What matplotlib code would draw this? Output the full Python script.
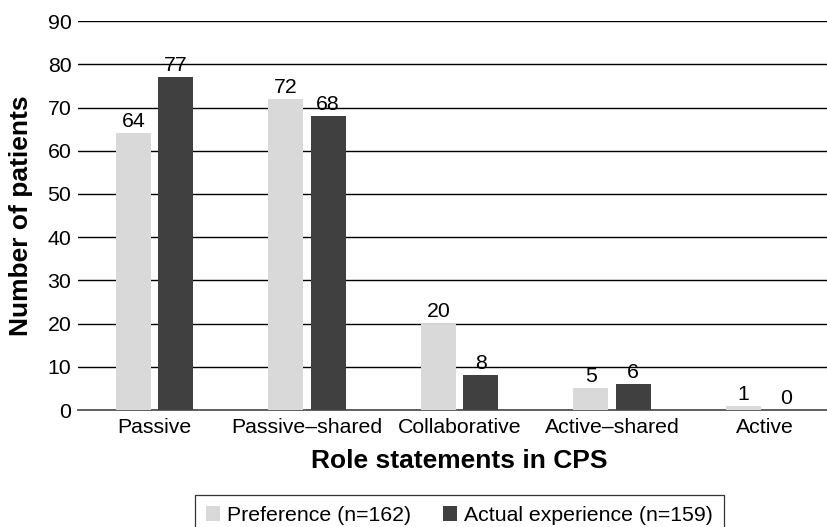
import numpy as np
import matplotlib
matplotlib.use("Agg")
import matplotlib.pyplot as plt

plt.rcParams['font.family'] = ['Liberation Sans', 'DejaVu Sans']

# --- Data ---
categories = ["Passive", "Passive\u2013shared", "Collaborative", "Active\u2013shared", "Active"]
preference = [64, 72, 20, 5, 1]
actual = [77, 68, 8, 6, 0]
series_labels = ["Preference (n=162)", "Actual experience (n=159)"]

LIGHT = '#d9d9d9'
DARK = '#404040'
FS = 15.3

fig = plt.figure(figsize=(8.27, 5.27), dpi=100)
# the plot area runs a bit past the right edge of the figure, like the original
ax = fig.add_axes([0.0946, 0.222, 0.922, 0.738])

x = np.arange(len(categories))
w = 0.23
off = 0.139
b1 = ax.bar(x - off, preference, w, color=LIGHT, label=series_labels[0], zorder=3)
b2 = ax.bar(x + off, actual, w, color=DARK, label=series_labels[1], zorder=3)

for bars, vals in [(b1, preference), (b2, actual)]:
    for rect, v in zip(bars, vals):
        ax.text(rect.get_x() + rect.get_width() / 2, v + 0.5, str(v),
                ha='center', va='bottom', fontsize=FS)

ax.set_xlim(-0.5, len(categories) - 0.5)
ax.set_ylim(0, 90)
ax.set_yticks(range(0, 91, 10))
ax.yaxis.grid(True, color='black', linewidth=1.0, zorder=0)
ax.set_axisbelow(True)
for s in ['left', 'right', 'top']:
    ax.spines[s].set_visible(False)
ax.spines['bottom'].set_color('#555555')
ax.spines['bottom'].set_linewidth(1.3)
ax.tick_params(axis='y', length=0, labelsize=FS, pad=5)
ax.tick_params(axis='x', length=0, labelsize=FS, pad=5.5)
ax.set_xticks(x)
ax.set_xticklabels(categories)

ax.set_xlabel("Role statements in CPS", fontsize=19, fontweight='bold')
ax.set_ylabel("Number of patients", fontsize=19, fontweight='bold')
ax.xaxis.set_label_coords(0.5, -0.100)
ax.yaxis.set_label_coords(-0.059, 0.5)

leg = fig.legend(handles=[b1, b2], labels=series_labels, loc='upper center',
                 bbox_to_anchor=(0.5556, 0.0598), ncol=2, fontsize=FS,
                 frameon=True, fancybox=False, edgecolor='black',
                 handlelength=0.66, handleheight=0.66, handletextpad=0.33,
                 columnspacing=1.5, borderpad=0.5, borderaxespad=0)
leg.get_frame().set_linewidth(0.9)

fig.savefig("out.png", dpi=100)
